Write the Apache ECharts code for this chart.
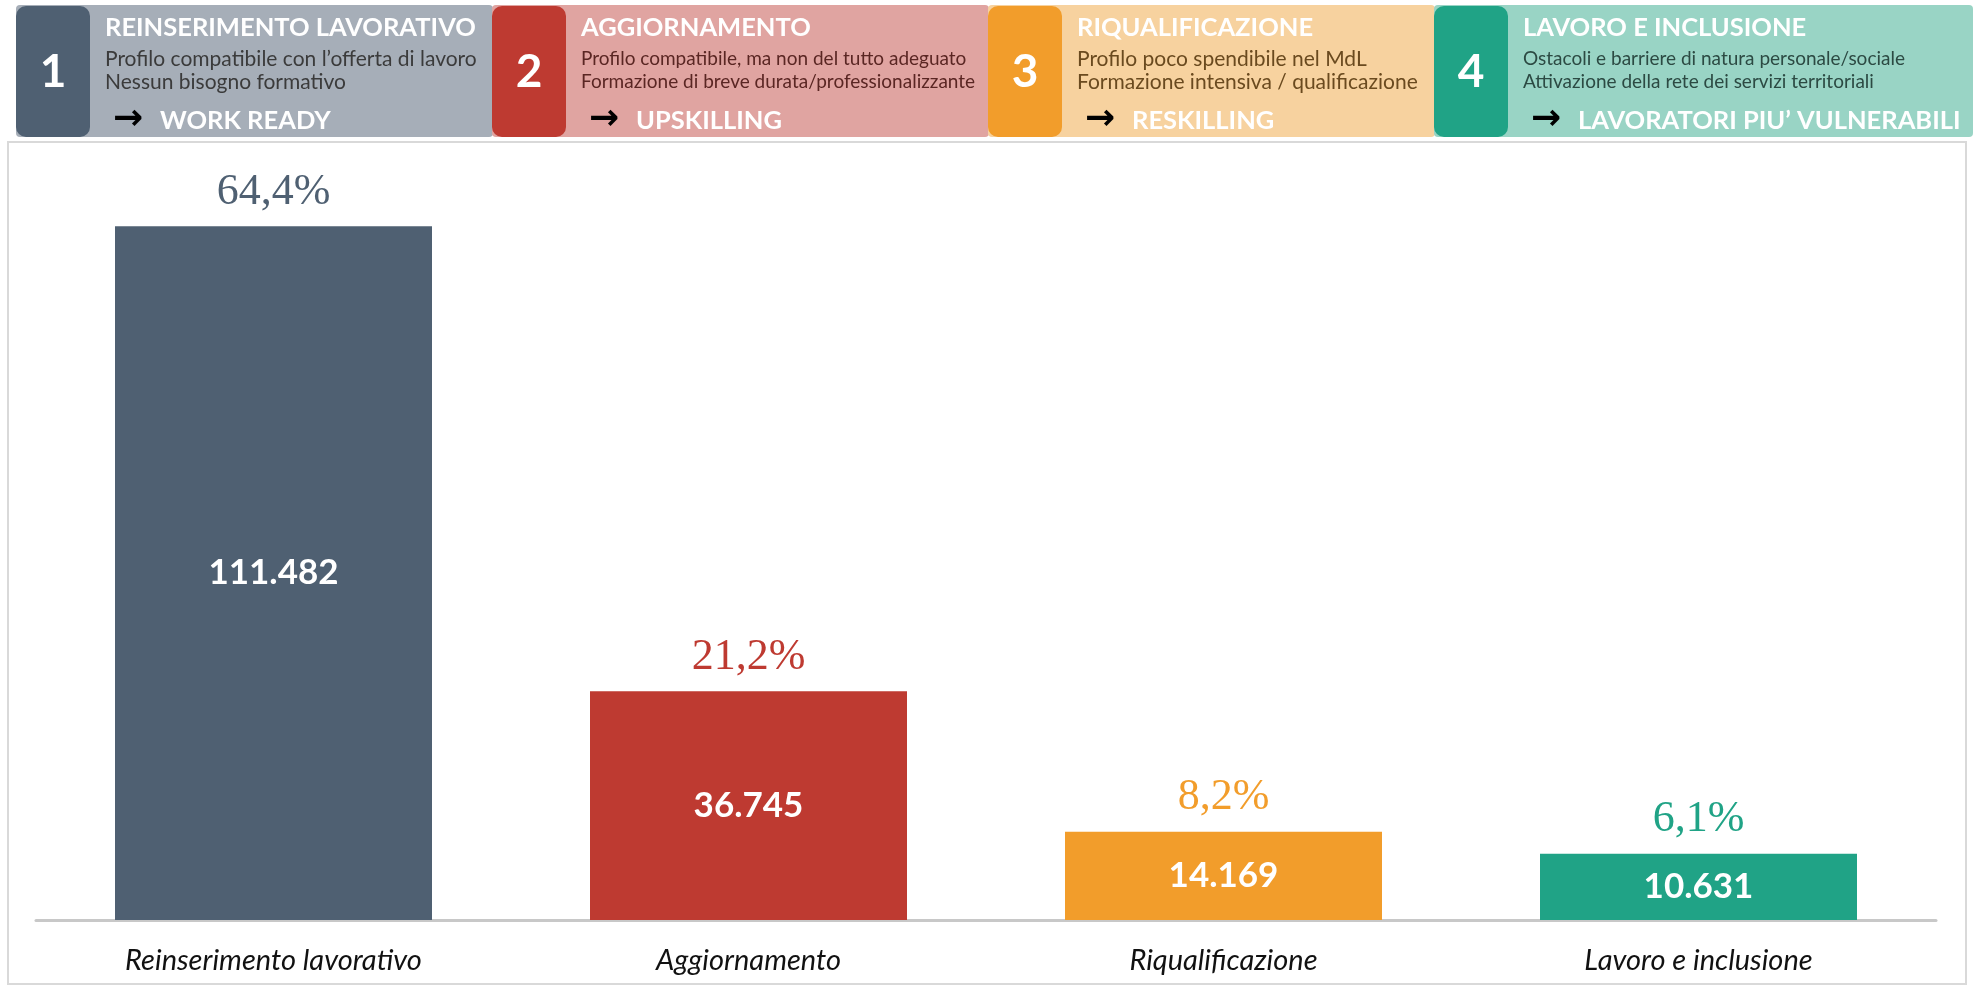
<!DOCTYPE html>
<html>
<head>
<meta charset="utf-8">
<script src="https://cdn.jsdelivr.net/npm/echarts@6/dist/echarts.min.js"></script>
<style>
  html, body { margin: 0; padding: 0; background: #fff; }
  #chart { width: 1988px; height: 988px; }
</style>
</head>
<body>
<div id="chart"></div>
<script>
// data
const categories = ["Reinserimento lavorativo", "Aggiornamento", "Riqualificazione", "Lavoro e inclusione"];
const counts = [111482, 36745, 14169, 10631];
const shares = [64.4, 21.2, 8.2, 6.1];
const barColors = ["#4F6072", "#BE3A31", "#F29D2B", "#20A386"];

// header panels
const panelNumbers = ["1", "2", "3", "4"];
const panelTitles = ["REINSERIMENTO LAVORATIVO", "AGGIORNAMENTO", "RIQUALIFICAZIONE", "LAVORO E INCLUSIONE"];
const panelLine1 = [
  "Profilo compatibile con l’offerta di lavoro",
  "Profilo compatibile, ma non del tutto adeguato",
  "Profilo poco spendibile nel MdL",
  "Ostacoli e barriere di natura personale/sociale"
];
const panelLine2 = [
  "Nessun bisogno formativo",
  "Formazione di breve durata/professionalizzante",
  "Formazione intensiva / qualificazione",
  "Attivazione della rete dei servizi territoriali"
];
const panelTargets = ["WORK READY", "UPSKILLING", "RESKILLING", "LAVORATORI PIU’ VULNERABILI"];
const panelLight = ["#A6AEB8", "#E0A4A1", "#F7D29F", "#99D4C5"];
const panelInk = ["#3b3b3b", "#5a2623", "#6a4a1f", "#2c4a43"];
const panelSub = [21, 19, 21, 19];
const panelEdges = [16, 492, 988, 1434, 1972];

const fmtCount = v => String(v).replace(/\B(?=(\d{3})+(?!\d))/g, ".");
const fmtShare = v => v.toFixed(1).replace(".", ",") + "%";

const chart = echarts.init(document.getElementById("chart"));

const headerFont = "Lato, 'Open Sans', sans-serif";
const graphics = [
  {
    type: "rect",
    z: -10,
    shape: { x: 8, y: 142, width: 1958, height: 842 },
    style: { fill: "none", stroke: "#D9D9D9", lineWidth: 2 }
  }
];

panelTitles.forEach((title, i) => {
  const x0 = panelEdges[i];
  const x1 = panelEdges[i + 1];
  graphics.push({
    type: "rect",
    shape: { x: x0, y: 5, width: x1 - x0 + 1, height: 132, r: 4 },
    style: { fill: panelLight[i] }
  });
  graphics.push({
    type: "rect",
    shape: { x: x0, y: 6, width: 74, height: 131, r: 10 },
    style: { fill: barColors[i] }
  });
  graphics.push({
    type: "text",
    x: x0 + 37, y: 72,
    style: {
      text: panelNumbers[i], fill: "#fff", font: "bold 46px " + headerFont,
      align: "center", verticalAlign: "middle"
    }
  });
  graphics.push({
    type: "text",
    x: x0 + 89, y: 28,
    style: {
      text: title, fill: "#fff", font: "bold 25.5px " + headerFont,
      align: "left", verticalAlign: "middle"
    }
  });
  graphics.push({
    type: "text",
    x: x0 + 89, y: 59,
    style: {
      text: panelLine1[i], fill: panelInk[i], font: panelSub[i] + "px " + headerFont,
      align: "left", verticalAlign: "middle"
    }
  });
  graphics.push({
    type: "text",
    x: x0 + 89, y: 82,
    style: {
      text: panelLine2[i], fill: panelInk[i], font: panelSub[i] + "px " + headerFont,
      align: "left", verticalAlign: "middle"
    }
  });
  graphics.push({
    type: "text",
    x: x0 + 97, y: 120,
    style: {
      text: "→", fill: "#000", font: "bold 36px 'DejaVu Sans', sans-serif",
      align: "left", verticalAlign: "middle"
    }
  });
  graphics.push({
    type: "text",
    x: x0 + 144, y: 121,
    style: {
      text: panelTargets[i], fill: "#fff", font: "bold 25.5px " + headerFont,
      align: "left", verticalAlign: "middle"
    }
  });
});

const option = {
  animation: false,
  backgroundColor: "#fff",
  grid: { left: 36, right: 52, top: 142, bottom: 68 },
  xAxis: {
    type: "category",
    data: categories,
    axisLine: { lineStyle: { color: "#C8C8C8", width: 3 } },
    axisTick: { show: false },
    axisLabel: {
      color: "#111",
      fontFamily: headerFont,
      fontStyle: "italic",
      fontSize: 29,
      margin: 26
    }
  },
  yAxis: {
    type: "value",
    min: 0,
    max: 125000,
    show: false,
    splitLine: { show: false }
  },
  series: [
    {
      name: "Lavoratori",
      type: "bar",
      barWidth: 317,
      z: 3,
      data: counts.map((v, i) => ({ value: v, itemStyle: { color: barColors[i] } })),
      label: {
        show: true,
        position: "inside",
        color: "#fff",
        fontFamily: headerFont,
        fontWeight: "bold",
        fontSize: 35,
        formatter: p => fmtCount(p.value)
      }
    },
    {
      name: "Quota",
      type: "bar",
      barWidth: 317,
      barGap: "-100%",
      z: 1,
      silent: true,
      itemStyle: { color: "rgba(0,0,0,0)" },
      data: counts.map((v, i) => ({
        value: v,
        label: { color: barColors[i] }
      })),
      label: {
        show: true,
        position: "top",
        distance: 12,
        fontFamily: "'Liberation Serif', 'DejaVu Serif', serif",
        fontSize: 44,
        formatter: p => fmtShare(shares[p.dataIndex])
      }
    }
  ],
  graphic: graphics
};

chart.setOption(option);
</script>
</body>
</html>
